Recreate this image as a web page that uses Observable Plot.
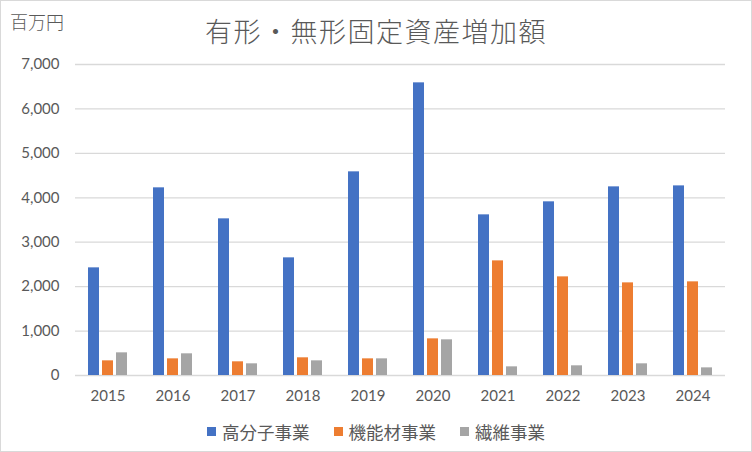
<!DOCTYPE html>
<html>
<head>
<meta charset="utf-8">
<script src="https://cdn.jsdelivr.net/npm/d3@7"></script>
<script src="https://cdn.jsdelivr.net/npm/@observablehq/plot@0.6"></script>
<style>
  html, body { margin: 0; padding: 0; background: #fff; }
  #wrap { position: relative; width: 750px; height: 450px; border: 1px solid #d9d9d9; background: #fff; overflow: hidden;
          font-family: Lato, "Noto Sans CJK JP", sans-serif; color: #595959; }
  #title { position: absolute; left: 0; right: 0; top: 14px; text-align: center; font-family: "Noto Sans CJK JP", sans-serif;
           font-size: 27px; font-weight: 300; color: #595959; letter-spacing: 1.5px; line-height: 1.2; }
  #unit { position: absolute; left: 9px; top: 10px; font-family: "Noto Sans CJK JP", sans-serif; font-size: 18px; font-weight: 300; color: #595959; line-height: 1.2; }
  #chart { position: absolute; left: 0; top: 0; }
  #legend { position: absolute; left: 0; right: 0; top: 420px; display: flex; justify-content: center; gap: 24px;
            font-family: "Noto Sans CJK JP", sans-serif; font-size: 17.5px; color: #595959; line-height: 1.2; }
  #legend span.item { display: flex; align-items: center; }
  #legend span.sw { display: inline-block; width: 9px; height: 9px; margin-right: 6px; }
</style>
</head>
<body>
<div id="wrap">
  <div id="chart"></div>
  <div id="title">有形・無形固定資産増加額</div>
  <div id="unit">百万円</div>
  <div id="legend"></div>
</div>
<script>
const years = ["2015","2016","2017","2018","2019","2020","2021","2022","2023","2024"];
const series = ["高分子事業","機能材事業","繊維事業"];
const kobunshi = [2423, 4224, 3526, 2648, 4584, 6587, 3616, 3909, 4246, 4268];
const kinouzai = [330, 375, 308, 398, 375, 825, 2580, 2220, 2085, 2108];
const seni = [510, 488, 263, 330, 375, 803, 195, 218, 263, 172];
const yTicks = [0, 1000, 2000, 3000, 4000, 5000, 6000, 7000];
const colors = ["#4472C4", "#ED7D31", "#A5A5A5"];

const values = [kobunshi, kinouzai, seni];
const data = [];
years.forEach((yr, i) => {
  series.forEach((s, j) => data.push({year: yr, series: s, value: values[j][i]}));
});

const chart = Plot.plot({
  width: 750,
  height: 410,
  marginLeft: 70,
  marginRight: 23,
  marginTop: 63,
  marginBottom: 36,
  style: {fontFamily: "Lato, 'Noto Sans CJK JP', sans-serif", fontSize: "15px", color: "#595959", background: "transparent"},
  fx: {domain: years, padding: 0, label: null, tickSize: 0, tickPadding: 15, axis: "bottom"},
  x: {domain: series, axis: null, paddingInner: 0.2, paddingOuter: 0.79},
  y: {domain: [0, 7000], ticks: yTicks, tickFormat: d3.format(","), tickSize: 0, tickPadding: 16, label: null},
  color: {domain: series, range: colors},
  marks: [
    Plot.ruleY(yTicks, {stroke: "#d9d9d9", strokeWidth: 1.3}),
    Plot.barY(data, {fx: "year", x: "series", y: "value", fill: "series"})
  ]
});
document.getElementById("chart").appendChild(chart);

const legend = document.getElementById("legend");
series.forEach((s, j) => {
  const item = document.createElement("span");
  item.className = "item";
  const sw = document.createElement("span");
  sw.className = "sw";
  sw.style.background = colors[j];
  item.appendChild(sw);
  item.appendChild(document.createTextNode(s));
  legend.appendChild(item);
});
</script>
</body>
</html>
